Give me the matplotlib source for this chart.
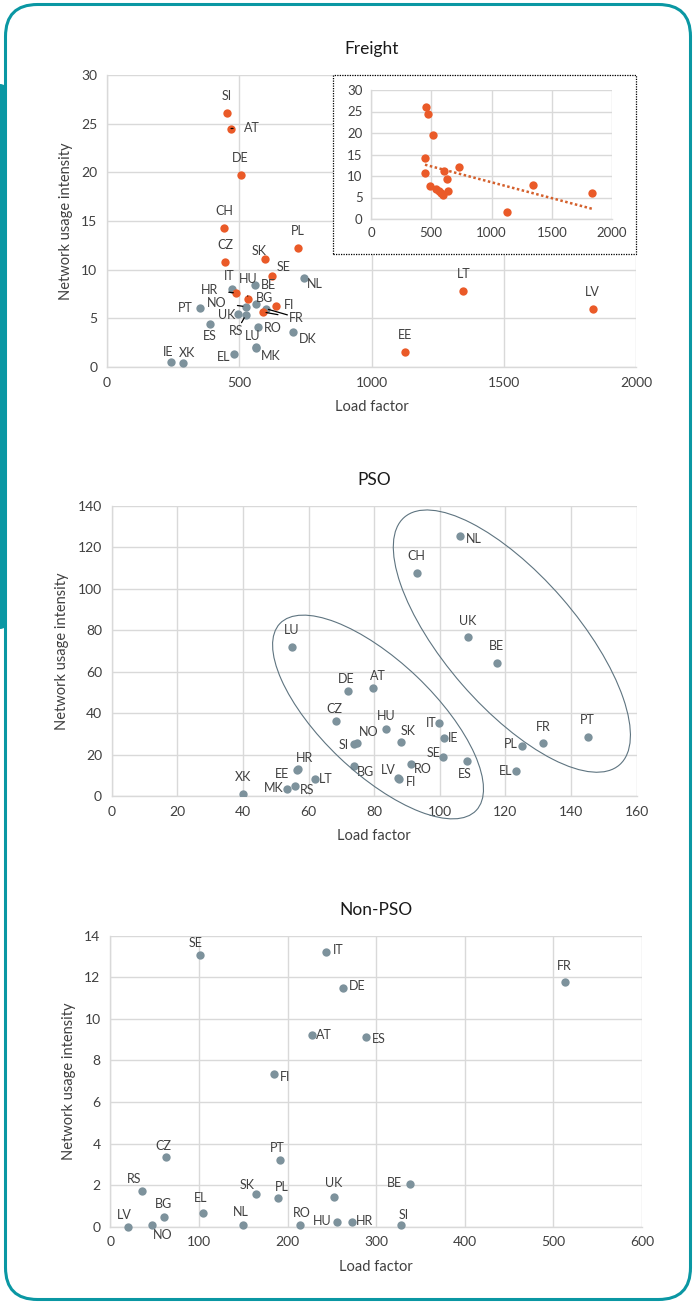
import numpy as np
import matplotlib
matplotlib.use("Agg")
import matplotlib.pyplot as plt
from matplotlib.patches import Ellipse, FancyBboxPatch, Rectangle
from matplotlib.transforms import ScaledTranslation

plt.rcParams['font.family'] = ['Lato', 'DejaVu Sans']

ORANGE = '#EA5A28'
GREY = '#7D929C'
TEAL = '#0A97A3'
GRIDC = '#D9D9D9'
TXT = '#404040'

# ---- Freight (main chart) ----
fr_or_names = ['SI', 'AT', 'DE', 'CH', 'CZ', 'PL', 'SK', 'SE', 'HR', 'HU', 'FI', 'FR', 'LT', 'LV', 'EE']
fr_or_load = [452, 469, 505, 442, 446, 722, 599, 625, 488, 532, 638, 591, 1347, 1837, 1128]
fr_or_nui = [26.1, 24.5, 19.7, 14.3, 10.8, 12.2, 11.1, 9.3, 7.6, 7.0, 6.3, 5.65, 7.85, 5.95, 1.55]

fr_gr_names = ['NL', 'BE', 'IT', 'BG', 'NO', 'PT', 'UK', 'RS', 'ES', 'RO', 'LU', 'DK', 'MK', 'EL', 'IE', 'XK', 'FR2']
fr_gr_load = [745, 561, 473, 563, 524, 352, 494, 524, 389, 570, 562, 703, 565, 479, 243, 288, 600]
fr_gr_nui = [9.1, 8.45, 8.0, 6.45, 6.2, 6.05, 5.4, 5.3, 4.4, 4.1, 2.05, 3.6, 1.95, 1.35, 0.55, 0.45, 6.0]

# ---- Freight (inset, trend) ----
ins_load = [456, 473, 515, 448, 448, 487, 537, 562, 578, 595, 636, 603, 628, 727, 1342, 1129, 1837]
ins_nui = [26.0, 24.4, 19.6, 14.1, 10.6, 7.66, 7.04, 6.42, 6.03, 5.65, 6.57, 11.06, 9.28, 12.2, 7.9, 1.7, 6.03]

# ---- PSO ----
pso_names = ['NL', 'CH', 'UK', 'BE', 'LU', 'DE', 'AT', 'CZ', 'HU', 'NO', 'SI', 'SK', 'IT', 'IE', 'SE',
             'RO', 'LV', 'FI', 'ES', 'BG', 'EE', 'HR', 'LT', 'RS', 'MK', 'XK', 'PL', 'FR', 'PT', 'EL']
pso_load = [106.2, 93.0, 108.6, 117.4, 55.0, 72.1, 79.7, 68.5, 83.5, 74.9, 74.0, 88.1, 99.9, 101.4, 101.0,
            91.2, 87.2, 87.6, 108.4, 74.0, 56.4, 56.9, 61.9, 56.0, 53.5, 39.9, 125.2, 131.5, 145.1, 123.4]
pso_nui = [125.5, 107.5, 76.5, 64.1, 71.8, 50.5, 51.9, 36.2, 32.5, 25.5, 24.9, 26.2, 35.0, 28.0, 18.7,
           15.6, 8.6, 8.2, 17.0, 14.3, 12.5, 13.0, 8.0, 5.0, 3.4, 1.0, 24.3, 25.6, 28.4, 12.2]

# ---- Non-PSO ----
npso_names = ['SE', 'IT', 'DE', 'AT', 'ES', 'FI', 'CZ', 'PT', 'RS', 'SK', 'PL', 'UK', 'BG', 'EL', 'LV',
              'NO', 'NL', 'RO', 'HU', 'HR', 'FR', 'BE', 'SI']
npso_load = [100.8, 242.9, 262.4, 227.1, 288.4, 184.3, 63.2, 191.0, 36.1, 164.7, 189.5, 252.3, 60.9, 104.6,
             20.0, 47.0, 149.3, 214.3, 256.0, 273.0, 513.2, 338.0, 327.5]
npso_nui = [13.07, 13.2, 11.47, 9.22, 9.12, 7.34, 3.35, 3.22, 1.73, 1.57, 1.40, 1.43, 0.47, 0.66,
            0.0, 0.07, 0.07, 0.08, 0.21, 0.21, 11.77, 2.07, 0.07]

# label offsets in pixels (dx, dy); names in *_leader get a line to the point
fr_lab = {'SI': (0, 17), 'AT': (21, 1), 'DE': (0, 17), 'CH': (0, 17), 'CZ': (0, 17), 'PL': (0, 17),
          'SK': (-6, 8), 'SE': (11, 9), 'HR': (-27, 3), 'HU': (0, 20), 'FI': (13, 1), 'FR': (33, -6),
          'LT': (0, 17), 'LV': (-1, 17), 'EE': (0, 17),
          'NL': (11, -6), 'BE': (13, 0), 'IT': (-3, 13), 'BG': (9, 6), 'NO': (-29, 4), 'PT': (-15, 0),
          'UK': (-11, -1), 'RS': (-9, -16), 'ES': (0, -12), 'RO': (15, -1), 'LU': (-3, 11),
          'DK': (15, -7), 'MK': (14, -8), 'EL': (-10, -3), 'IE': (-3, 10), 'XK': (4, 10)}
fr_leader = ['AT', 'HR', 'HU', 'NO', 'RS', 'FR']

pso_lab = {'NL': (14, -3), 'CH': (0, 17), 'UK': (0, 16), 'BE': (0, 17), 'LU': (0, 17), 'DE': (-2, 12),
           'AT': (5, 12), 'CZ': (-2, 12), 'HU': (1, 13), 'NO': (11, 11), 'SI': (-11, -1), 'SK': (7, 11),
           'IT': (-8, 0), 'IE': (9, 0), 'SE': (-9, 4), 'RO': (12, -5), 'LV': (-9, 8), 'FI': (12, -3),
           'ES': (-2, -13), 'BG': (11, -6), 'EE': (-15, -4), 'HR': (6, 11), 'LT': (11, 0), 'RS': (12, -4),
           'MK': (-13, 1), 'XK': (0, 17), 'PL': (-12, 2), 'FR': (0, 16), 'PT': (0, 17), 'EL': (-11, 0)}

npso_lab = {'SE': (-4, 12), 'IT': (13, 2), 'DE': (14, 2), 'AT': (12, 0), 'ES': (13, -2), 'FI': (11, -3),
            'CZ': (-3, 11), 'PT': (-2, 12), 'RS': (-8, 12), 'SK': (-9, 9), 'PL': (4, 11), 'UK': (0, 14),
            'BG': (-1, 13), 'EL': (-2, 15), 'LV': (-4, 12), 'NO': (11, -10), 'NL': (-2, 13), 'RO': (2, 12),
            'HU': (-15, 1), 'HR': (12, 1), 'FR': (-1, 16), 'BE': (-15, 1), 'SI': (3, 10)}

W, H = 696, 1304


def px_axes(fig, left, top, right, bottom):
    return fig.add_axes([left / W, (H - bottom) / H, (right - left) / W, (bottom - top) / H])


def style_axes(ax, xlim, ylim, xticks, yticks, fs=10):
    ax.set_xlim(xlim)
    ax.set_ylim(ylim)
    ax.set_xticks(xticks)
    ax.set_yticks(yticks)
    ax.grid(True, color=GRIDC, lw=1)
    ax.set_axisbelow(True)
    for s in ['top', 'right']:
        ax.spines[s].set_visible(False)
    for s in ['left', 'bottom']:
        ax.spines[s].set_color(GRIDC)
        ax.spines[s].set_linewidth(1)
    ax.tick_params(length=0, labelsize=fs, colors=TXT, pad=7)


def label_points(ax, names, xs, ys, offsets, leaders=()):
    for n, x, y in zip(names, xs, ys):
        if n not in offsets:
            continue
        dx, dy = offsets[n]
        arrow = None
        if n in leaders:
            arrow = dict(arrowstyle='-', color='black', lw=0.9, shrinkA=6, shrinkB=2)
        ax.annotate(n, (x, y), xytext=(dx, dy), textcoords='offset pixels', ha='center', va='center',
                    fontsize=9, color=TXT, arrowprops=arrow)


def finish(ax, title):
    ax.set_xlabel('Load factor', fontsize=10.5, color=TXT, labelpad=8)
    ax.set_ylabel('Network usage intensity', fontsize=10.5, color=TXT, labelpad=6)
    ax.set_title(title, fontsize=12.5, color='#1A1A1A', pad=15)


fig = plt.figure(figsize=(W / 100, H / 100), dpi=100)

# frame
fig.patches.append(FancyBboxPatch((0.055, 0.045), 6.85, 12.95, boxstyle='round,pad=0,rounding_size=0.32',
                                  transform=fig.dpi_scale_trans, fc='none', ec=TEAL, lw=2.2, zorder=-1))
fig.patches.append(FancyBboxPatch((-0.1, 6.75), 0.16, 5.45, boxstyle='round,pad=0,rounding_size=0.06',
                                  transform=fig.dpi_scale_trans, fc=TEAL, ec='none', zorder=-1))

# ---- Freight ----
ax1 = px_axes(fig, 107, 75, 636, 367)
style_axes(ax1, (0, 2000), (0, 30), [0, 500, 1000, 1500, 2000], range(0, 31, 5))
ax1.scatter(fr_gr_load, fr_gr_nui, s=36, color=GREY, zorder=3, lw=0)
ax1.scatter(fr_or_load, fr_or_nui, s=36, color=ORANGE, zorder=3, lw=0)
label_points(ax1, fr_or_names, fr_or_load, fr_or_nui, fr_lab, fr_leader)
label_points(ax1, fr_gr_names, fr_gr_load, fr_gr_nui, fr_lab, fr_leader)
# second leader of the FR label, to the grey point
i = fr_gr_names.index('FR2')
ax1.annotate('', (fr_gr_load[i], fr_gr_nui[i]), xytext=(31, -9), textcoords='offset pixels',
             arrowprops=dict(arrowstyle='-', color='black', lw=0.9, shrinkA=7, shrinkB=2))
finish(ax1, 'Freight')

# inset box
fig.patches.append(Rectangle((333 / W, (H - 254) / H), 303 / W, 179 / H, transform=fig.transFigure,
                             fc='white', ec='black', lw=0.9, ls=(0, (1, 1)), zorder=2))
ax_in = px_axes(fig, 371, 90, 612, 219)
ax_in.set_zorder(3)
style_axes(ax_in, (0, 2000), (0, 30), [0, 500, 1000, 1500, 2000], range(0, 31, 5), fs=9.5)
ax_in.tick_params(pad=6)
ax_in.patch.set_alpha(0)
ax_in.scatter(ins_load, ins_nui, s=36, color=ORANGE, zorder=3, lw=0)
coef = np.polyfit(ins_load, ins_nui, 1)
tx = np.array([min(ins_load), max(ins_load)])
ax_in.plot(tx, np.polyval(coef, tx), ls=(0, (1, 1)), color='#D4602C', lw=1.8, zorder=2)

# ---- PSO ----
ax2 = px_axes(fig, 111.7, 505.7, 636.5, 796)
style_axes(ax2, (0, 160), (0, 140), range(0, 161, 20), range(0, 141, 20))
ax2.scatter(pso_load, pso_nui, s=36, color=GREY, zorder=3, lw=0)
label_points(ax2, pso_names, pso_load, pso_nui, pso_lab)
finish(ax2, 'PSO')
# group ellipses: centre in data units, size in inches
for (cx, cy), a, b, ang in [((81.2, 38.1), 2.71, 1.12, -43.6), ((122.0, 74.7), 3.28, 1.32, -49.0)]:
    tr = fig.dpi_scale_trans + ScaledTranslation(cx, cy, ax2.transData)
    ax2.add_patch(Ellipse((0, 0), a, b, angle=ang, transform=tr, fill=False, ec='#5E7480', lw=0.8,
                          clip_on=False, zorder=4))

# ---- Non-PSO ----
ax3 = px_axes(fig, 110.3, 935.7, 642, 1226.7)
style_axes(ax3, (0, 600), (0, 14), range(0, 601, 100), range(0, 15, 2))
ax3.scatter(npso_load, npso_nui, s=36, color=GREY, zorder=3, lw=0, clip_on=False)
label_points(ax3, npso_names, npso_load, npso_nui, npso_lab)
finish(ax3, 'Non-PSO')

fig.savefig('out.png', dpi=100)
